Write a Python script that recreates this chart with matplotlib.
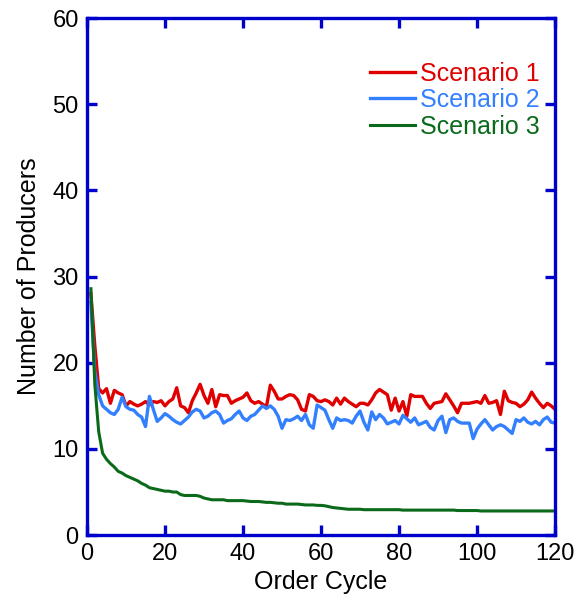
import numpy as np
import matplotlib
matplotlib.use('Agg')
import matplotlib.pyplot as plt

cycles = list(range(1, 121))

scenario_1 = [
    28.0, 22.0, 17.0, 16.5, 17.0, 15.3, 16.8, 16.5, 16.3, 15.0,
    15.5, 15.2, 15.0, 15.2, 15.5, 15.1, 15.5, 15.4, 15.6, 15.0,
    15.5, 15.8, 17.1, 15.0, 14.8, 14.2, 15.6, 16.5, 17.5, 16.2,
    15.3, 16.9, 14.9, 16.3, 16.2, 16.2, 15.3, 15.6, 15.8, 16.0,
    16.5, 15.6, 15.3, 15.5, 15.2, 14.9, 17.4, 16.7, 15.8, 15.8,
    16.1, 16.3, 16.2, 15.7, 14.6, 14.4, 16.3, 16.1, 15.6, 15.5,
    15.7, 15.5, 15.1, 15.9, 15.2, 15.9, 15.5, 15.2, 14.9, 15.3,
    15.3, 15.1, 15.7, 16.5, 16.9, 16.6, 16.3, 14.5, 15.9, 14.4,
    15.5, 13.8, 16.3, 16.1, 16.1, 16.1, 15.3, 14.7, 15.3, 15.4,
    15.5, 16.4, 15.7, 15.0, 14.2, 15.3, 15.3, 15.3, 15.4, 15.5,
    15.3, 16.2, 15.3, 15.4, 15.6, 14.0, 16.7, 15.6, 15.4, 15.3,
    14.9, 15.2, 15.7, 16.6, 15.9, 15.3, 14.8, 15.3, 15.0, 14.6,
]

scenario_2 = [
    27.0, 19.0, 16.3, 15.0, 14.6, 14.2, 14.0, 14.6, 16.0, 14.9,
    14.6, 14.5, 14.0, 13.7, 12.6, 16.1, 14.6, 13.2, 13.6, 14.1,
    13.8, 13.4, 13.1, 12.9, 13.3, 13.7, 14.3, 14.6, 14.4, 13.6,
    13.8, 14.2, 14.4, 14.0, 13.0, 13.3, 13.5, 14.0, 14.4, 13.6,
    13.3, 13.8, 14.0, 14.5, 15.0, 14.7, 15.0, 14.6, 13.8, 12.4,
    13.4, 13.3, 13.5, 13.8, 13.3, 14.0, 12.8, 12.4, 15.1, 14.8,
    14.5, 13.4, 12.4, 13.6, 13.3, 13.4, 13.3, 13.0, 13.8, 14.4,
    13.1, 12.2, 14.3, 13.4, 14.0, 13.6, 12.9, 13.1, 13.3, 12.9,
    13.9, 13.5, 13.1, 13.6, 12.8, 13.0, 13.2, 12.5, 12.2, 13.3,
    13.8, 11.9, 13.4, 13.6, 13.2, 13.0, 13.0, 13.0, 11.2, 12.3,
    12.9, 13.4, 12.8, 12.2, 12.6, 12.8, 12.6, 12.2, 11.8, 13.4,
    13.2, 13.6, 13.1, 12.9, 13.2, 12.8, 13.4, 13.7, 13.1, 13.0,
]

scenario_3 = [
    28.6, 17.5, 12.0, 9.5, 8.8, 8.3, 7.9, 7.4, 7.2, 6.9,
    6.7, 6.5, 6.3, 6.0, 5.8, 5.5, 5.4, 5.3, 5.2, 5.1,
    5.1, 5.0, 5.0, 4.7, 4.6, 4.6, 4.6, 4.6, 4.5, 4.3,
    4.2, 4.1, 4.1, 4.1, 4.1, 4.0, 4.0, 4.0, 4.0, 4.0,
    3.95, 3.9, 3.9, 3.9, 3.85, 3.8, 3.8, 3.75, 3.7, 3.7,
    3.6, 3.6, 3.6, 3.6, 3.55, 3.5, 3.5, 3.5, 3.45, 3.45,
    3.4, 3.3, 3.2, 3.15, 3.1, 3.05, 3.0, 3.0, 3.0, 3.0,
    2.95, 2.95, 2.95, 2.95, 2.95, 2.95, 2.95, 2.95, 2.95, 2.95,
    2.9, 2.9, 2.9, 2.9, 2.9, 2.9, 2.9, 2.9, 2.9, 2.9,
    2.9, 2.9, 2.9, 2.9, 2.85, 2.85, 2.85, 2.85, 2.85, 2.85,
    2.8, 2.8, 2.8, 2.8, 2.8, 2.8, 2.8, 2.8, 2.8, 2.8,
    2.8, 2.8, 2.8, 2.8, 2.8, 2.8, 2.8, 2.8, 2.8, 2.8,
]

plt.rcParams['font.family'] = ['Liberation Sans', 'DejaVu Sans']

axis_blue = '#0000cc'

fig = plt.figure(figsize=(5.8, 6.06), dpi=100)
ax = fig.add_axes([0.15, 0.117, 0.807, 0.853])

ax.plot(cycles, scenario_1, color='#e00000', lw=2.4, label='Scenario 1')
ax.plot(cycles, scenario_2, color='#3380ff', lw=2.4, label='Scenario 2')
ax.plot(cycles, scenario_3, color='#0a6a1a', lw=2.2, label='Scenario 3')

ax.set_xlim(0, 120)
ax.set_ylim(0, 60)
ax.set_xticks([0, 20, 40, 60, 80, 100, 120])
ax.set_yticks([0, 10, 20, 30, 40, 50, 60])

for s in ax.spines.values():
    s.set_color(axis_blue)
    s.set_linewidth(2.4)
ax.tick_params(direction='in', length=7, width=2.4, color=axis_blue,
               top=True, right=True, labelsize=17, pad=6)

ax.set_xlabel('Order Cycle', fontsize=18, labelpad=3)
ax.set_ylabel('Number of Producers', fontsize=18, labelpad=8)

leg = ax.legend(loc='upper right', frameon=False, fontsize=18,
                handlelength=1.8, handletextpad=0.2, labelspacing=0.1,
                borderaxespad=0.2, bbox_to_anchor=(1.0, 0.945))
for txt, line in zip(leg.get_texts(), leg.get_lines()):
    txt.set_color(line.get_color())

fig.savefig('out.png', dpi=100)
